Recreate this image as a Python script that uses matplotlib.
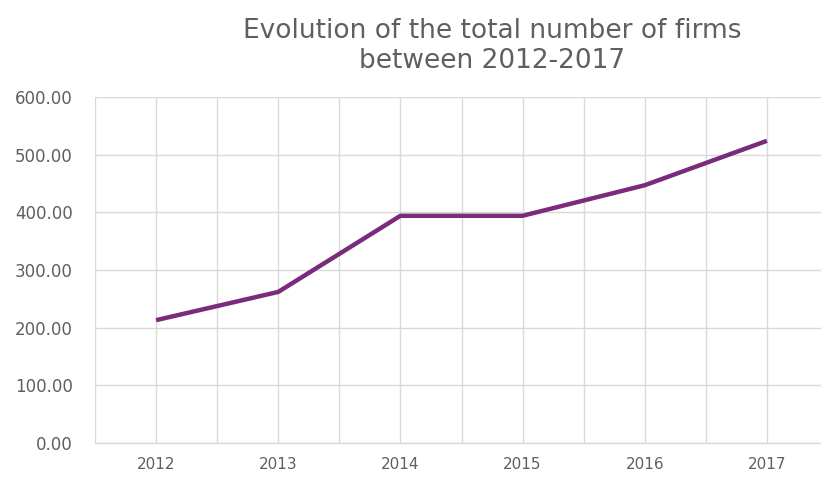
import matplotlib.pyplot as plt
import numpy as np

years = ['2012', '2013', '2014', '2015', '2016', '2017']
firms = [213, 262, 394, 394, 447, 524]
y_ticks = [0, 100, 200, 300, 400, 500, 600]

plt.rcParams['font.family'] = ['DejaVu Sans']
text_col = '#5f5f5f'
grid_col = '#d9d9d9'

fig = plt.figure(figsize=(8.21, 4.79), dpi=100)
ax = fig.add_axes([95/821, 1 - 443/479, 733/821, 346/479])

x = np.arange(len(years))
ax.plot(x, firms, color='#7A2B7C', linewidth=3.2, solid_capstyle='butt', zorder=3)

ax.set_xlim(-0.5, len(years) - 0.5)
ax.set_ylim(0, 600)
ax.set_xticks(x)
ax.set_xticklabels(years)
ax.set_xticks(np.arange(-0.5, len(years), 1.0), minor=True)
ax.set_yticks(y_ticks)
ax.set_yticklabels([f'{v:.2f}' for v in y_ticks])

ax.grid(True, which='both', color=grid_col, linewidth=1)
ax.set_axisbelow(True)
for side in ['top', 'right', 'left']:
    ax.spines[side].set_visible(False)
ax.spines['bottom'].set_color(grid_col)
ax.spines['bottom'].set_linewidth(1)
ax.tick_params(which='both', length=0)
ax.tick_params(axis='x', pad=10, labelsize=11, labelcolor=text_col)
ax.tick_params(axis='y', pad=16, labelsize=12, labelcolor=text_col)

fig.text(492/821, 1 - 46/479, 'Evolution of the total number of firms\nbetween 2012-2017',
         ha='center', va='center', fontsize=19, color=text_col, linespacing=1.2)

fig.savefig('out.png', dpi=100)
